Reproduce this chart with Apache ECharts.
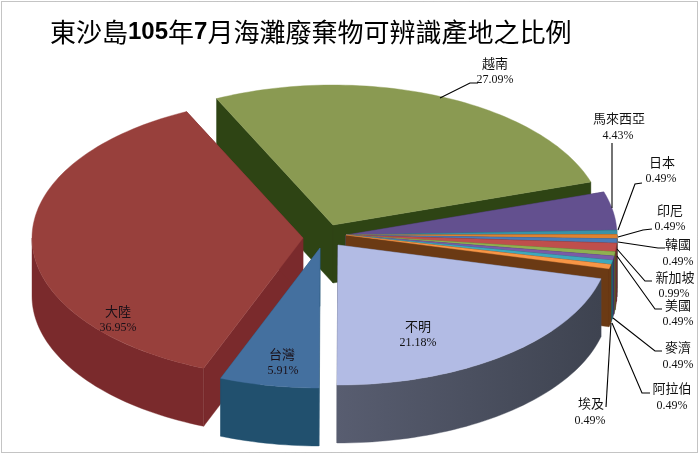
<!DOCTYPE html>
<html><head><meta charset="utf-8">
<style>html,body{margin:0;padding:0;background:#fff}#c{width:700px;height:455px}</style>
<script src="https://cdn.jsdelivr.net/npm/echarts@6/dist/echarts.min.js"></script>
</head><body><div id="c"></div>
<script>
// ---- data ----
const categories = ['大陸','越南','馬來西亞','日本','印尼','韓國','新加坡','美國','麥濟','阿拉伯','埃及','不明','台灣'];
const values = [36.95,27.09,4.43,0.49,0.49,0.49,0.99,0.49,0.49,0.49,0.49,21.18,5.91];
const percentLabels = ['36.95%','27.09%','4.43%','0.49%','0.49%','0.49%','0.99%','0.49%','0.49%','0.49%','0.49%','21.18%','5.91%'];
const titleParts = ['東沙島','105','年','7','月海灘廢棄物可辨識產地之比例'];
// ---- styles ----
const topColors = ['#98403c','#8a9a52','#63508f','#3a92a8','#e08230','#4a7cb8','#bf4f4c','#90b050','#7a5ca6','#3fa8bc','#f79646','#b2bbe4','#44709f'];
const sideColors = ['#7a2a2c','#2e4414','#3a2c5c','#1f5a66','#8a4a18','#2a4a70','#702a2a','#55682c','#463464','#1f5f6c','#6b3a14','#4c5164','#21506e'];
const paintOrder = [1,2,3,4,5,6,7,8,9,10,0,11,12];
// ---- pie geometry ----
const RX = 271, RY = 140, DEPTH = 58, START = 201.5;
const SMALL = [346,235];
const centers = [[303,238],[333,225],SMALL,SMALL,SMALL,SMALL,SMALL,SMALL,SMALL,SMALL,SMALL,[338,245],[320,248]];
// ---- label layout: [name x, name y, pct x, pct y], leader polyline ----
const labelPos = [[118,311,118,328],[495,63,495,80],[619,118,618,136],[662,162,661,179],[670,210,670,227],[678,244,678,262],[675,277,674,294],[678,305,678,322],[678,347,678,365],[672,388,672,406],[591,403,590,421],[418,326,418,343],[282,354,283,371]];
const leaders = [null,[[440,98],[470,83],[478,83]],[[612,143],[612,208]],[[642,183],[635,184],[618,230]],[[652,229],[643,230],[618,237]],[[665,248],[658,248],[618,242]],[[652,281],[645,281],[617,249]],[[662,309],[655,309],[617,256]],[[662,351],[655,351],[613,318]],[[650,393],[642,393],[612,323]],[[606,407],[611,323]],null,null];

const total = values.reduce((a,b)=>a+b,0);
const spans = []; let acc = START;
values.forEach(v=>{const s=acc, e=acc+v/total*360; spans.push([s,e]); acc=e;});
const pt=(c,deg,dz)=>{const r=deg*Math.PI/180;return [c[0]+RX*Math.sin(r),c[1]-RY*Math.cos(r)+(dz||0)];};
const arc=(c,a,b,dz)=>{const n=Math.max(2,Math.ceil(Math.abs(b-a)/1.5));const o=[];for(let i=0;i<=n;i++)o.push(pt(c,a+(b-a)*i/n,dz));return o;};
const poly=(points,fill)=>({type:'polygon',shape:{points},style:{fill,stroke:fill,lineWidth:0.4}});

function renderSlice(params){
  const i=paintOrder[params.dataIndex], c=centers[i], [a,b]=spans[i], kids=[];
  const side=sideColors[i];
  [a,b].forEach(d=>{const p=pt(c,d);kids.push(poly([c,p,[p[0],p[1]+DEPTH],[c[0],c[1]+DEPTH]],side));});
  const norm=x=>((x%360)+360)%360; let s=norm(a), e=s+(b-a);
  const ws=Math.max(s,90), we=Math.min(e,270);
  if(we>ws){
    const light=i===11?{type:'linear',x:1,y:0,x2:0,y2:0,colorStops:[{offset:0,color:'#3e4350'},{offset:1,color:'#585d70'}]}:side;
    kids.push(poly(arc(c,ws,we,0).concat(arc(c,we,ws,DEPTH)),light));
  }
  kids.push(poly([c].concat(arc(c,a,b,0)),topColors[i]));
  return {type:'group',children:kids};
}
function renderLabel(params){
  const i=params.dataIndex,p=labelPos[i],kids=[];
  if(leaders[i])kids.push({type:'polyline',shape:{points:leaders[i]},style:{fill:null,stroke:'#000',lineWidth:1.1}});
  const color=(i===0||i===12)?'#1a1018':'#111';
  kids.push({type:'text',style:{text:categories[i],x:p[0],y:p[1],align:'center',verticalAlign:'middle',fill:color,font:'13px "Noto Sans CJK TC"'}});
  kids.push({type:'text',style:{text:percentLabels[i],x:p[2],y:p[3],align:'center',verticalAlign:'middle',fill:color,font:'12px "Liberation Serif"'}});
  return {type:'group',children:kids};
}
const cjk={fontFamily:'"Noto Sans CJK TC"',fontSize:26,fontWeight:400,color:'#000'};
const num={fontFamily:'"Liberation Sans"',fontSize:24,fontWeight:700,color:'#000'};
const chart=echarts.init(document.getElementById('c'),null,{renderer:'canvas'});
chart.setOption({
  animation:false,backgroundColor:'#fff',
  title:{left:50,top:19,padding:0,text:titleParts.map((t,k)=>`{${k%2?'n':'c'}|${t}}`).join(''),textStyle:{rich:{c:cjk,n:num}}},
  graphic:[{type:'rect',silent:true,z:-1,shape:{x:1.5,y:1.5,width:696,height:451},style:{fill:null,stroke:'#888',lineWidth:1,lineDash:[1,1]}}],
  series:[
    {type:'custom',coordinateSystem:'none',silent:true,renderItem:renderSlice,data:paintOrder.map(i=>({name:categories[i],value:values[i]}))},
    {type:'custom',coordinateSystem:'none',silent:true,z:5,renderItem:renderLabel,data:categories.map((n,i)=>({name:n,value:values[i]}))}
  ]
});
</script></body></html>
